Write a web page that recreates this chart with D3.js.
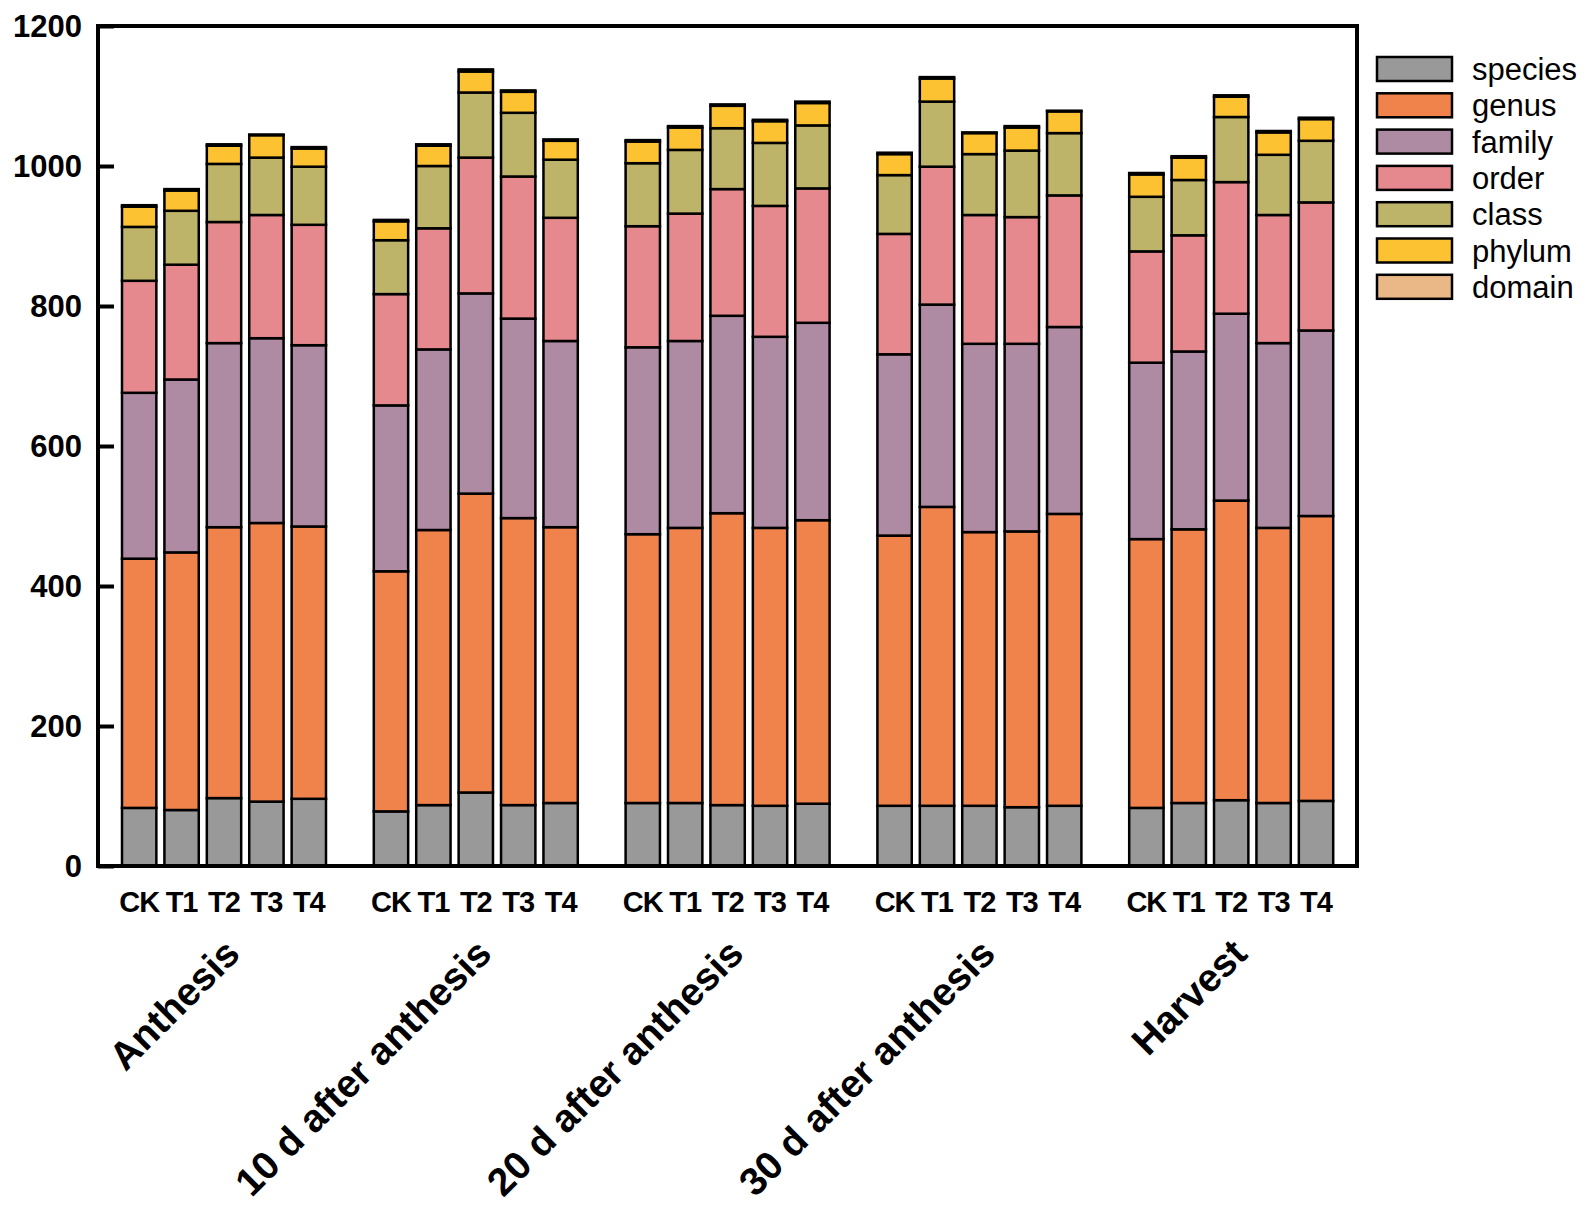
<!DOCTYPE html>
<html>
<head>
<meta charset="utf-8">
<script src="https://cdn.jsdelivr.net/npm/d3@7"></script>
<style>
  body { margin: 0; background: #fff; }
  text { font-family: "Liberation Sans", Arial, sans-serif; }
</style>
</head>
<body>
<div id="chart"></div>
<script>
const width = 1594;
const height = 1209;

const stages = ["Anthesis", "10 d after anthesis", "20 d after anthesis", "30 d after anthesis", "Harvest"];
const treatments = ["CK", "T1", "T2", "T3", "T4"];
const levels = ["species", "genus", "family", "order", "class", "phylum", "domain"];
const colors = ["#999999", "#f0834c", "#ae8ba3", "#e5898f", "#beb469", "#fcc231", "#e9b886"];
const yTicks = [0, 200, 400, 600, 800, 1000, 1200];

// values per taxonomic level, stage by stage, CK T1 T2 T3 T4
const speciesVals = [83, 80, 97, 92, 96,  78, 87, 105, 87, 90,  90, 90, 87, 86, 89,  86, 86, 86, 84, 86,  83, 90, 94, 90, 93];
const genusVals   = [356, 368, 387, 398, 389,  343, 393, 427, 410, 394,  384, 393, 417, 397, 405,  386, 427, 391, 394, 417,  384, 391, 428, 393, 407];
const familyVals  = [237, 247, 263, 264, 259,  237, 258, 286, 285, 266,  267, 267, 282, 273, 282,  259, 289, 269, 268, 267,  252, 254, 267, 264, 265];
const orderVals   = [160, 164, 173, 176, 172,  159, 173, 194, 203, 176,  173, 182, 181, 187, 192,  172, 197, 184, 181, 188,  159, 166, 188, 183, 183];
const classVals   = [77, 77, 83, 82, 83,  77, 89, 93, 91, 83,  90, 91, 87, 90, 90,  84, 93, 87, 95, 89,  78, 79, 93, 86, 88];
const phylumVals  = [29, 29, 26, 32, 26,  27, 29, 30, 30, 27,  31, 32, 32, 31, 32,  30, 33, 30, 33, 31,  32, 32, 29, 32, 31];
const domainVals  = [2, 2, 2, 1, 2,  2, 2, 3, 2, 2,  2, 2, 2, 2, 2,  2, 2, 1, 2, 1,  2, 2, 2, 2, 2];

const seriesVals = [speciesVals, genusVals, familyVals, orderVals, classVals, phylumVals, domainVals];

const rows = [];
stages.forEach((s, i) => {
    treatments.forEach((t, j) => {
        const k = i * treatments.length + j;
        const row = { stage: s, treatment: t };
        levels.forEach((l, m) => { row[l] = seriesVals[m][k]; });
        rows.push(row);
    });
});

const plotLeft = 98, plotRight = 1357, plotTop = 26, plotBottom = 866;

const x0 = d3.scaleBand().domain(stages).range([plotLeft, plotRight]);
const x1 = d3.scaleBand().domain(treatments).range([24, 228]).paddingInner(0.19);
const y = d3.scaleLinear().domain([0, 1200]).range([plotBottom, plotTop]);
const color = d3.scaleOrdinal().domain(levels).range(colors);

const stacked = d3.stack().keys(levels)(rows);

const svg = d3.select("#chart")
    .append("svg")
    .attr("width", width)
    .attr("height", height);

// bars
svg.append("g")
    .selectAll("g")
    .data(stacked)
    .enter()
    .append("g")
    .attr("fill", d => color(d.key))
    .selectAll("rect")
    .data(d => d)
    .enter()
    .append("rect")
    .attr("x", d => x0(d.data.stage) + x1(d.data.treatment))
    .attr("y", d => y(d[1]))
    .attr("width", x1.bandwidth())
    .attr("height", d => y(d[0]) - y(d[1]))
    .attr("stroke", "#000")
    .attr("stroke-width", 2.5);

// frame
svg.append("rect")
    .attr("x", plotLeft)
    .attr("y", plotTop)
    .attr("width", plotRight - plotLeft)
    .attr("height", plotBottom - plotTop)
    .attr("fill", "none")
    .attr("stroke", "#000")
    .attr("stroke-width", 4);

// y axis, ticks pointing inward
const yAxis = svg.append("g")
    .attr("transform", `translate(${plotLeft},0)`)
    .call(d3.axisRight(y).tickValues(yTicks).tickSize(16).tickFormat(""));
yAxis.select(".domain").remove();
yAxis.selectAll("line").attr("stroke", "#000").attr("stroke-width", 4);

svg.append("g")
    .selectAll("text")
    .data(yTicks)
    .enter()
    .append("text")
    .attr("x", 82)
    .attr("y", d => y(d))
    .attr("dy", "0.36em")
    .attr("text-anchor", "end")
    .attr("font-size", "31px")
    .attr("font-weight", "bold")
    .text(d => d);

// treatment labels
svg.append("g")
    .selectAll("text")
    .data(rows)
    .enter()
    .append("text")
    .attr("x", d => x0(d.stage) + x1(d.treatment) + x1.bandwidth() / 2)
    .attr("y", 912)
    .attr("text-anchor", "middle")
    .attr("font-size", "29px")
    .attr("font-weight", "bold")
    .attr("letter-spacing", "-1px")
    .text(d => d.treatment);

// stage labels, rotated
svg.append("g")
    .selectAll("text")
    .data(stages)
    .enter()
    .append("text")
    .attr("transform", d => `translate(${x0(d) + x0.bandwidth() / 2 + 18},956) rotate(-45)`)
    .attr("text-anchor", "end")
    .attr("font-size", "39px")
    .attr("font-weight", "bold")
    .text(d => d);

// legend
const legend = svg.append("g")
    .selectAll("g")
    .data(levels)
    .enter()
    .append("g")
    .attr("transform", (d, i) => `translate(1377,${69 + i * 36.3})`);

legend.append("rect")
    .attr("x", 0)
    .attr("y", -12)
    .attr("width", 75)
    .attr("height", 24)
    .attr("fill", d => color(d))
    .attr("stroke", "#000")
    .attr("stroke-width", 2.5);

legend.append("text")
    .attr("x", 95)
    .attr("y", 0)
    .attr("dy", "0.36em")
    .attr("font-size", "31px")
    .text(d => d);
</script>
</body>
</html>
